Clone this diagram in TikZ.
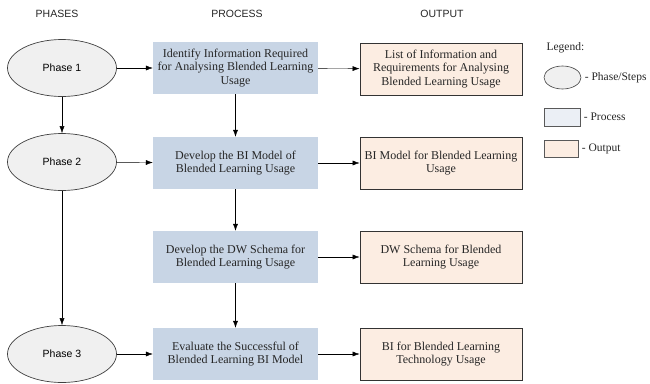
\documentclass[tikz,border=0pt]{standalone}
\usepackage{fontspec}
\setmainfont{Liberation Serif}
\setsansfont{Liberation Sans}
\usetikzlibrary{positioning,shapes.geometric,arrows.meta}

\definecolor{phasefill}{HTML}{F0F0F0}
\definecolor{processfill}{HTML}{C8D5E5}
\definecolor{legendfill}{HTML}{EBEFF5}
\definecolor{outputfill}{HTML}{FCEDE2}

\begin{document}
\begin{tikzpicture}[x=1pt, y=-1pt, >={Latex[length=7pt,width=5pt]},
  every phase/.style={ellipse, draw=black!75, line width=0.7pt, fill=phasefill,
    minimum width=109pt, minimum height=57pt, inner sep=0pt,
    font=\sffamily\fontsize{10.5}{12}\selectfont},
  every process/.style={rectangle, fill=processfill, minimum width=165pt,
    minimum height=52pt, align=center, text=black!85,
    font=\fontsize{12}{13.5}\selectfont},
  every output/.style={rectangle, draw=black!80, line width=0.9pt, fill=outputfill,
    minimum width=162pt, minimum height=52pt, align=center, text=black!85,
    font=\fontsize{12}{13.5}\selectfont},
  legend text/.style={anchor=west, text=black!85, font=\fontsize{11.5}{13}\selectfont}]

\useasboundingbox (0,0) rectangle (650,383);

% column headers
\foreach \l/\x in {PHASES/57, PROCESS/237, OUTPUT/442}
  \node [font=\sffamily\fontsize{10.5}{12}\selectfont, text=black!85] (head-\l) at (\x,14) {\l};

% phases
\foreach \m/\y in {1/68, 2/162, 3/354}
  \node [every phase/.try] (phase-\m) at (62,\y) {Phase \m};

% process steps
\foreach \m/\y/\t in {1/68/{Identify Information Required\\for Analysing Blended Learning\\Usage},
    2/163/{Develop the BI Model of\\Blended Learning Usage},
    3/257/{Develop the DW Schema for\\Blended Learning Usage},
    4/354/{Evaluate the Successful of\\Blended Learning BI Model}}
  \node [every process/.try] (process-\m) at (235.5,\y) {\t};

% outputs
\foreach \m/\y/\t in {1/69/{List of Information and\\Requirements for Analysing\\Blended Learning Usage},
    2/163/{BI Model for Blended Learning\\Usage},
    3/257/{DW Schema for Blended\\Learning Usage},
    4/354/{BI for Blended Learning\\Technology Usage}}
  \node [every output/.try] (output-\m) at (441,\y) {\t};

% legend
\node [legend text] (legend) at (543,48) {Legend:};
\node [ellipse, draw=black!75, line width=0.6pt, fill=phasefill, minimum width=37pt,
  minimum height=23pt, inner sep=0pt] (legend-phase) at (562.5,77.5) {};
\node [draw=black!65, line width=0.6pt, fill=legendfill, minimum width=36pt,
  minimum height=18pt, inner sep=0pt] (legend-process) at (562,117) {};
\node [draw=black!65, line width=0.6pt, fill=outputfill, minimum width=34pt,
  minimum height=17pt, inner sep=0pt] (legend-output) at (561,148.5) {};
\node [legend text, right=0pt of legend-phase] {- Phase/Steps};
\node [legend text, right=0pt of legend-process] {- Process};
\node [legend text, right=0pt of legend-output] {- Output};

% connectors
\draw [->] (phase-1) -- (phase-2);
\draw [->] (phase-2) -- (phase-3);

\foreach \i/\j in {1/1, 2/2, 3/4}
  \draw [->] (phase-\i) -- (process-\j);

\foreach \i/\j in {1/2, 2/3, 3/4}
  \draw [->] (process-\i) -- (process-\j);

\foreach \i in {1,...,4}
  \draw [->] (process-\i) -- (output-\i);

\end{tikzpicture}
\end{document}
